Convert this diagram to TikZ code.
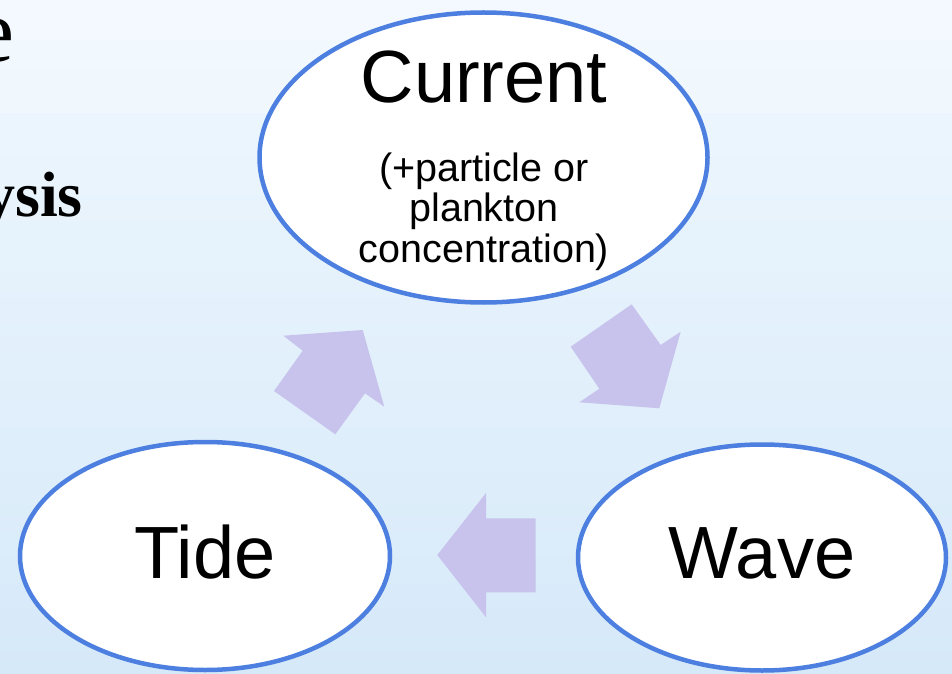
\documentclass[tikz,border=0pt]{standalone}
\usepackage{fontspec}
\setmainfont{Liberation Sans}
\newfontfamily\serifbold{Liberation Serif}
\usetikzlibrary{shapes.geometric}
\definecolor{bgtop}{HTML}{F0F8FE}
\definecolor{bgbot}{HTML}{D6E9F9}
\definecolor{ringblue}{HTML}{4C7FDF}
\definecolor{lavender}{HTML}{C8C3EC}
\tikzset{
  bubble/.style={ellipse, draw=ringblue, line width=4.5pt, fill=white, inner sep=0pt},
  bigtxt/.style={font=\fontsize{74}{80}\selectfont, inner sep=0pt},
  smalltxt/.style={font=\fontsize{39.5}{40}\selectfont, inner sep=0pt},
  blockarrow/.style={fill=lavender, draw=none},
  titletxt/.style={font=\serifbold\bfseries\fontsize{64}{70}\selectfont, inner sep=0pt, anchor=base east}
}
\begin{document}
\begin{tikzpicture}[x=1pt,y=1pt]
\useasboundingbox (0,0) rectangle (952,673);
\shade[bottom color=bgbot, top color=bgtop] (0,0) rectangle (952,673);
\fill[white, opacity=0.25] (0,673) rectangle (952,560);
% partial title text at left edge
\node[titletxt, font=\serifbold\fontsize{90}{96}\selectfont] (t1) at (15,611) {e};
\node[titletxt] (t2) at (83,456) {ysis};
% ellipses
\node[bubble, minimum width=448pt, minimum height=290pt] (cur) at (483.5,515.5) {};
\node[bubble, minimum width=370pt, minimum height=228pt] (tide) at (205,117) {};
\node[bubble, minimum width=368pt, minimum height=226pt] (wave) at (762,115.5) {};
% texts
\node[bigtxt, anchor=base] (curT) at (484,570) {Current};
\node[smalltxt, anchor=base] (cur1) at (484,491) {(+particle or};
\node[smalltxt, anchor=base] (cur2) at (484,451) {plankton};
\node[smalltxt, anchor=base] (cur3) at (484,410) {concentration)};
\node[bigtxt, anchor=base] (tideT) at (205,95) {Tide};
\node[bigtxt, anchor=base] (waveT) at (762,95) {Wave};
% block arrows
\fill[blockarrow] (274,282) -- (335.3,238.7) -- (365,279.7) -- (384.3,266.3) -- (362.7,343) -- (283.3,337.3) -- (302.7,322.3) -- cycle;
\fill[blockarrow] (570.7,326.3) -- (631.7,368.7) -- (660.7,328) -- (680.7,341.3) -- (659.3,264.7) -- (579.3,270.7) -- (599.3,284.3) -- cycle;
\fill[blockarrow] (535.7,154.7) -- (535.7,80.7) -- (486,80.7) -- (486,55.7) -- (437.3,118) -- (486,180) -- (486,154.7) -- cycle;
\end{tikzpicture}
\end{document}
